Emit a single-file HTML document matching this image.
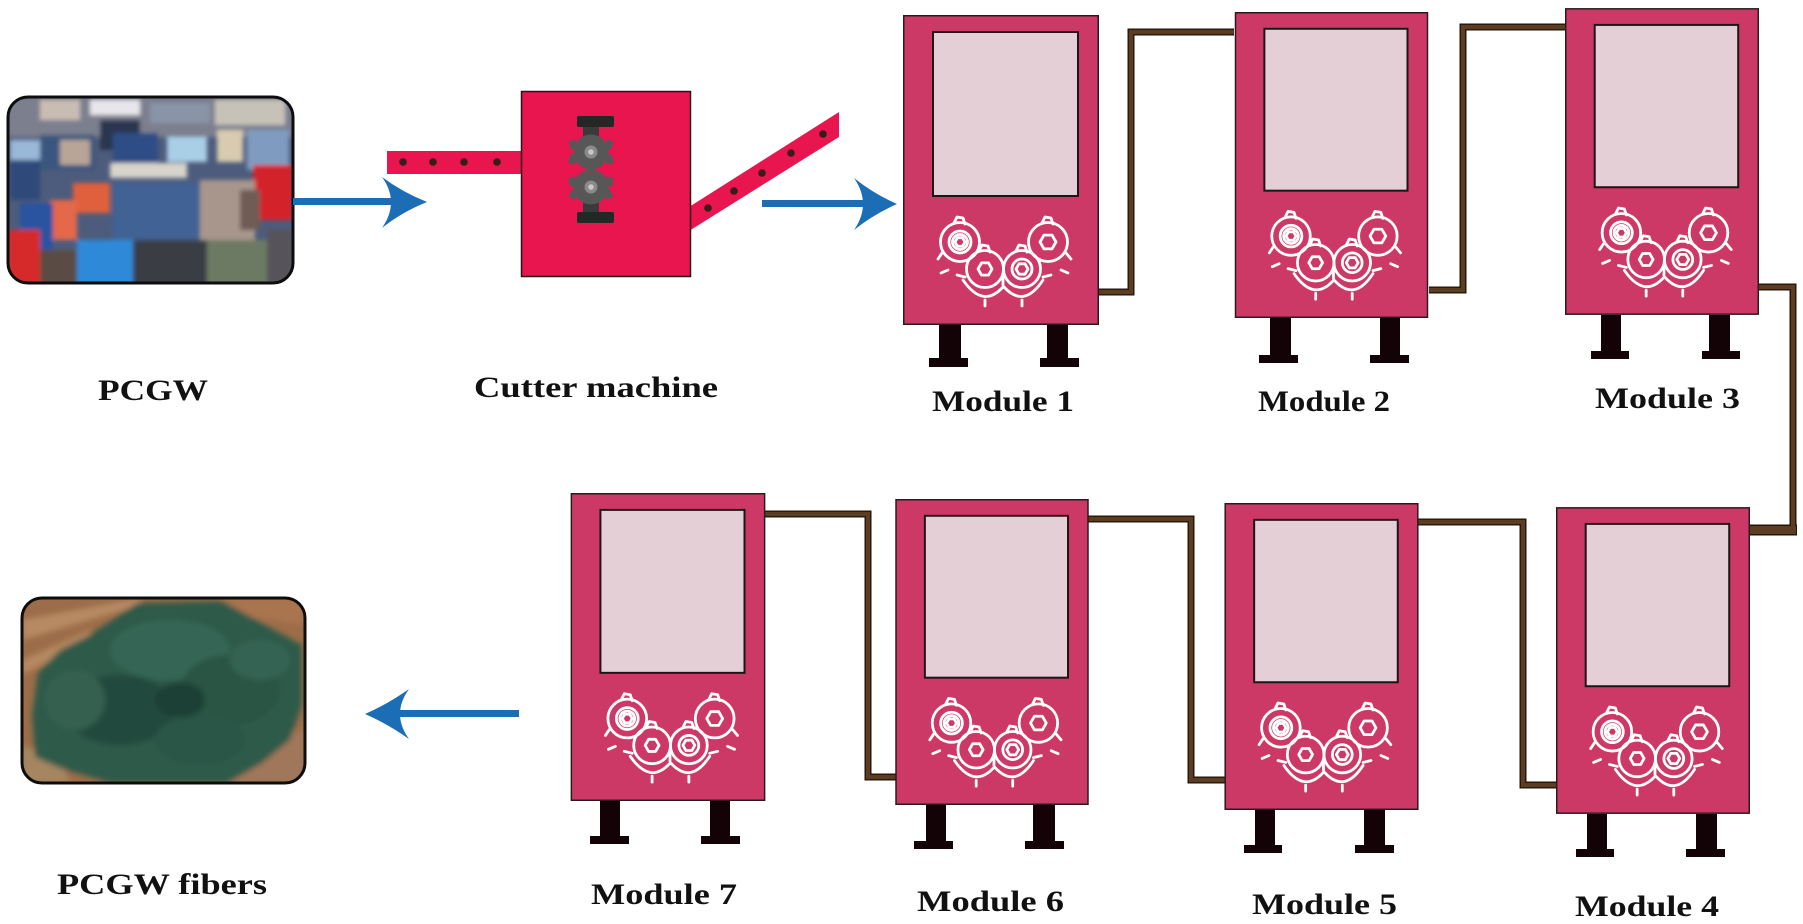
<!DOCTYPE html>
<html>
<head>
<meta charset="utf-8">
<style>
html,body{margin:0;padding:0;background:#fff;}
svg{display:block;}
text{font-family:"Liberation Serif","DejaVu Serif",serif;font-weight:bold;fill:#111;}
</style>
</head>
<body>
<svg width="1803" height="924" viewBox="0 0 1803 924" xmlns="http://www.w3.org/2000/svg" xmlns:xlink="http://www.w3.org/1999/xlink">
<defs>
  <clipPath id="clip1"><rect x="8" y="97" width="285" height="186" rx="20" ry="20"/></clipPath>
  <clipPath id="clip2"><rect x="22" y="598" width="283" height="185" rx="20" ry="20"/></clipPath>
  <filter id="blur1" x="-5%" y="-5%" width="110%" height="110%"><feGaussianBlur stdDeviation="2.2"/></filter>
  <filter id="blur2" x="-5%" y="-5%" width="110%" height="110%"><feGaussianBlur stdDeviation="3"/></filter>
  <symbol id="mod" viewBox="0 0 196 310" overflow="visible">
    <rect x="0.75" y="0.75" width="194.5" height="308.5" fill="#cd3966" stroke="#2a1a1e" stroke-width="1.5"/>
    <rect x="30" y="17" width="145" height="164" fill="#e4cfd6" stroke="#1c1416" stroke-width="2"/>
    <g fill="none" stroke="#fff" stroke-width="2.8" stroke-linejoin="round" stroke-linecap="round">
      <circle cx="57" cy="227" r="19.5"/>
      <circle cx="57" cy="227" r="11"/>
      <circle cx="57" cy="227" r="7.5"/>
      <polygon points="62,227 59.5,231.3 54.5,231.3 52,227 54.5,222.7 59.5,222.7"/>
      <circle cx="145" cy="227" r="19.5"/>
      <polygon points="153,227 149,233.9 141,233.9 137,227 141,220.1 149,220.1"/>
      <circle cx="82" cy="254" r="18.5"/>
      <polygon points="89,254 85.5,260.1 78.5,260.1 75,254 78.5,247.9 85.5,247.9"/>
      <circle cx="119" cy="254" r="18.5"/>
      <circle cx="119" cy="254" r="10"/>
      <polygon points="125,254 122,259.2 116,259.2 113,254 116,248.8 122,248.8"/>
      <path d="M60,265 Q80,294 100,272"/>
      <path d="M101,272 Q121,294 140,265"/>
      <path d="M51,208 l3,-6 l6,1 l2,6"/>
      <path d="M139,208 l3,-6 l6,1 l2,6"/>
      <path d="M76,236 l3,-6 l6,1 l2,6"/>
      <path d="M113,236 l3,-6 l6,1 l2,6"/>
      <path d="M39,238 l-4,6 M45,255 l-7,3 M163,238 l5,6 M158,255 l7,3"/>
      <path d="M62,262 l-8,-2 M140,262 l8,-2 M82,285 l0,6 M119,285 l0,6 M100,262 l0,8"/>
    </g>
  </symbol>
</defs>

<rect width="1803" height="924" fill="#fff"/>

<!-- PCGW photo -->
<g clip-path="url(#clip1)">
  <rect x="8" y="97" width="285" height="186" fill="#4d5c7c"/>
  <g filter="url(#blur1)">
    <rect x="8" y="97" width="285" height="40" fill="#7c7f8e"/>
    <rect x="40" y="100" width="40" height="20" fill="#c9bdb3"/>
    <rect x="90" y="100" width="50" height="15" fill="#e8e6ea"/>
    <rect x="150" y="103" width="60" height="20" fill="#8a94a8"/>
    <rect x="215" y="100" width="70" height="25" fill="#c7c2b8"/>
    <rect x="100" y="120" width="40" height="30" fill="#2a3550"/>
    <rect x="10" y="140" width="30" height="22" fill="#9ab8d8"/>
    <rect x="10" y="160" width="30" height="40" fill="#2d4a7a"/>
    <rect x="40" y="135" width="55" height="35" fill="#3b567e"/>
    <rect x="60" y="140" width="30" height="25" fill="#b9a597"/>
    <rect x="113" y="133" width="45" height="40" fill="#2f4e86"/>
    <rect x="167" y="137" width="40" height="25" fill="#a9cfe6"/>
    <rect x="217" y="130" width="26" height="32" fill="#d8cbb0"/>
    <rect x="247" y="130" width="42" height="40" fill="#7f9cc0"/>
    <rect x="110" y="163" width="77" height="15" fill="#d8d4cc"/>
    <rect x="253" y="165" width="40" height="55" fill="#d4202c"/>
    <rect x="73" y="183" width="37" height="30" fill="#e0603e"/>
    <rect x="50" y="200" width="27" height="40" fill="#e4684a"/>
    <rect x="113" y="183" width="100" height="62" fill="#3f6294"/>
    <rect x="200" y="180" width="55" height="60" fill="#a8968c"/>
    <rect x="240" y="190" width="20" height="40" fill="#6e5c55"/>
    <rect x="20" y="203" width="33" height="54" fill="#2b52a0"/>
    <rect x="8" y="230" width="32" height="55" fill="#d62c2c"/>
    <rect x="77" y="240" width="56" height="45" fill="#2f8ad8"/>
    <rect x="133" y="240" width="74" height="45" fill="#3a3c45"/>
    <rect x="207" y="240" width="60" height="45" fill="#6d7a63"/>
    <rect x="267" y="230" width="26" height="55" fill="#56525a"/>
    <rect x="40" y="250" width="37" height="35" fill="#5a4b45"/>
  </g>
</g>
<rect x="8" y="97" width="285" height="186" rx="20" ry="20" fill="none" stroke="#0d0d0d" stroke-width="3"/>

<!-- PCGW fibers photo -->
<g clip-path="url(#clip2)">
  <rect x="22" y="598" width="283" height="185" fill="#9c6d48"/>
  <g filter="url(#blur2)">
    <path d="M22,620 L140,598 L140,605 L22,640 Z" fill="#b88a63"/>
    <path d="M22,660 L90,630 L90,640 L22,675 Z" fill="#b58860"/>
    <path d="M220,598 L305,598 L305,625 L240,615 Z" fill="#a97550"/>
    <path d="M230,745 L305,730 L305,783 L220,783 Z" fill="#a0775a"/>
    <path d="M22,745 L60,760 L70,783 L22,783 Z" fill="#a58660"/>
    <path d="M137,603 L223,601 L265,625 L302,645 L302,705 L290,740 L262,763 L228,783 L110,783 L60,768 L35,757 L32,715 L38,672 L60,650 L88,636 Z" fill="#2e5a4a"/>
    <ellipse cx="170" cy="650" rx="60" ry="30" fill="#356655"/>
    <ellipse cx="230" cy="690" rx="50" ry="35" fill="#2a5445"/>
    <ellipse cx="120" cy="710" rx="55" ry="35" fill="#244a3e"/>
    <ellipse cx="200" cy="740" rx="45" ry="25" fill="#2c5646"/>
    <ellipse cx="75" cy="700" rx="30" ry="30" fill="#34604f"/>
    <ellipse cx="260" cy="660" rx="30" ry="20" fill="#356352"/>
    <ellipse cx="180" cy="700" rx="25" ry="18" fill="#1d3f35"/>
  </g>
</g>
<rect x="22" y="598" width="283" height="185" rx="20" ry="20" fill="none" stroke="#0d0d0d" stroke-width="3"/>

<!-- Blue arrows -->
<g fill="#1b6eb5">
  <rect x="293" y="198" width="105" height="7"/>
  <path d="M427,202 Q402,192 382,177 Q400,202 382,228 Q402,212 427,202 Z"/>
  <rect x="762" y="200" width="112" height="7"/>
  <path d="M897,204 Q874,194 854,178 Q872,204 854,230 Q874,214 897,204 Z"/>
  <rect x="392" y="710" width="127" height="7"/>
  <path d="M365,714 Q388,704 409,689 Q391,714 409,739 Q388,724 365,714 Z"/>
</g>

<!-- Cutter machine -->
<rect x="387" y="151" width="136" height="23" fill="#e8154f"/>
<g fill="#3a1a1a">
  <circle cx="403" cy="162" r="3.8"/>
  <circle cx="433" cy="162" r="3.8"/>
  <circle cx="464" cy="162" r="3.8"/>
  <circle cx="497" cy="162" r="3.8"/>
</g>
<polygon points="689,207 839,112 839,137 689,231" fill="#e8154f"/>
<g fill="#3a1a1a">
  <circle cx="708" cy="208" r="3.8"/>
  <circle cx="734" cy="191" r="3.8"/>
  <circle cx="762" cy="173" r="3.8"/>
  <circle cx="791" cy="153" r="3.8"/>
  <circle cx="823" cy="134" r="3.8"/>
</g>
<rect x="521.5" y="91.5" width="169" height="185" fill="#e8154f" stroke="#2a1418" stroke-width="1.5"/>
<g>
  <rect x="583" y="125" width="16" height="24" fill="#3a3a3a"/>
  <rect x="583" y="190" width="16" height="24" fill="#3a3a3a"/>
  <rect x="577" y="116" width="37" height="11" rx="2" fill="#262626"/>
  <rect x="577" y="212" width="37" height="11" rx="2" fill="#262626"/>
  <g fill="#575757">
    <rect x="570" y="140" width="7" height="9" transform="rotate(-25 574 145)"/>
    <rect x="605" y="140" width="7" height="9" transform="rotate(25 608 145)"/>
    <rect x="569" y="155" width="7" height="9" transform="rotate(15 573 160)"/>
    <rect x="606" y="155" width="7" height="9" transform="rotate(-15 609 160)"/>
    <rect x="569" y="177" width="7" height="9" transform="rotate(-15 573 181)"/>
    <rect x="606" y="177" width="7" height="9" transform="rotate(15 609 181)"/>
    <rect x="570" y="190" width="7" height="9" transform="rotate(25 574 195)"/>
    <rect x="605" y="190" width="7" height="9" transform="rotate(-25 608 195)"/>
  </g>
  <circle cx="591" cy="152" r="17.5" fill="#575757"/>
  <circle cx="591" cy="187" r="17.5" fill="#575757"/>
  <circle cx="591" cy="152" r="6.5" fill="#8a8a8a"/>
  <circle cx="591" cy="152" r="2.8" fill="#c8c8c8"/>
  <circle cx="591" cy="187" r="6.5" fill="#8a8a8a"/>
  <circle cx="591" cy="187" r="2.8" fill="#c8c8c8"/>
</g>

<!-- Connectors -->
<g fill="none" stroke-linejoin="miter" stroke-linecap="butt">
  <g stroke="#24150b" stroke-width="7">
    <polyline points="1098,292 1131,292 1131,32 1234,32"/>
    <polyline points="1429,290 1463,290 1463,27 1566,27"/>
    <polyline points="1758,287 1793,287 1793,530"/>
    <polyline points="1418,522 1523,522 1523,785 1557,785"/>
    <polyline points="1088,519 1191,519 1191,780 1225,780"/>
    <polyline points="765,514 868,514 868,777 896,777"/>
  </g>
  <line x1="1750" y1="530" x2="1797" y2="530" stroke="#24150b" stroke-width="11"/>
  <g stroke="#5c3d22" stroke-width="4.2">
    <polyline points="1098,292 1131,292 1131,32 1234,32"/>
    <polyline points="1429,290 1463,290 1463,27 1566,27"/>
    <polyline points="1758,287 1793,287 1793,530"/>
    <polyline points="1418,522 1523,522 1523,785 1557,785"/>
    <polyline points="1088,519 1191,519 1191,780 1225,780"/>
    <polyline points="765,514 868,514 868,777 896,777"/>
  </g>
  <line x1="1750" y1="530" x2="1796" y2="530" stroke="#5c3d22" stroke-width="8"/>
</g>

<!-- Modules -->
<use href="#mod" xlink:href="#mod" x="903" y="15" width="196" height="310"/>
<use href="#mod" xlink:href="#mod" x="1233" y="12" width="197" height="306"/>
<use href="#mod" xlink:href="#mod" x="1565" y="8" width="194" height="307"/>
<use href="#mod" xlink:href="#mod" x="1556" y="507" width="194" height="307"/>
<use href="#mod" xlink:href="#mod" x="1224" y="503" width="195" height="307"/>
<use href="#mod" xlink:href="#mod" x="895" y="499" width="194" height="306"/>
<use href="#mod" xlink:href="#mod" x="570" y="493" width="196" height="308"/>

<!-- Legs -->
<g fill="#130306">
  <rect x="939" y="325" width="22" height="34"/><rect x="929" y="358" width="39" height="9"/>
  <rect x="1047" y="325" width="21" height="34"/><rect x="1040" y="358" width="39" height="9"/>
  <rect x="1270" y="318" width="21" height="38"/><rect x="1259" y="355" width="39" height="8"/>
  <rect x="1380" y="318" width="20" height="38"/><rect x="1370" y="355" width="39" height="8"/>
  <rect x="1601" y="315" width="20" height="37"/><rect x="1591" y="351" width="38" height="8"/>
  <rect x="1709" y="315" width="21" height="37"/><rect x="1702" y="351" width="38" height="8"/>
  <rect x="1587" y="814" width="20" height="36"/><rect x="1576" y="849" width="38" height="8"/>
  <rect x="1696" y="814" width="21" height="36"/><rect x="1686" y="849" width="39" height="8"/>
  <rect x="1255" y="810" width="20" height="36"/><rect x="1244" y="845" width="38" height="8"/>
  <rect x="1364" y="810" width="21" height="36"/><rect x="1355" y="845" width="39" height="8"/>
  <rect x="926" y="805" width="20" height="37"/><rect x="914" y="841" width="39" height="8"/>
  <rect x="1033" y="805" width="22" height="37"/><rect x="1025" y="841" width="39" height="8"/>
  <rect x="600" y="801" width="20" height="36"/><rect x="590" y="836" width="39" height="8"/>
  <rect x="710" y="801" width="20" height="36"/><rect x="701" y="836" width="39" height="8"/>
</g>

<!-- Labels -->
<g font-size="30">
  <text x="98" y="400" textLength="110" lengthAdjust="spacingAndGlyphs">PCGW</text>
  <text x="474" y="397" textLength="244" lengthAdjust="spacingAndGlyphs">Cutter machine</text>
  <text x="932" y="411" textLength="142" lengthAdjust="spacingAndGlyphs">Module 1</text>
  <text x="1258" y="411" textLength="132" lengthAdjust="spacingAndGlyphs">Module 2</text>
  <text x="1595" y="408" textLength="145" lengthAdjust="spacingAndGlyphs">Module 3</text>
  <text x="1575" y="916" textLength="144" lengthAdjust="spacingAndGlyphs">Module 4</text>
  <text x="1252" y="914" textLength="145" lengthAdjust="spacingAndGlyphs">Module 5</text>
  <text x="917" y="911" textLength="147" lengthAdjust="spacingAndGlyphs">Module 6</text>
  <text x="591" y="904" textLength="146" lengthAdjust="spacingAndGlyphs">Module 7</text>
  <text x="57" y="894" textLength="210" lengthAdjust="spacingAndGlyphs">PCGW fibers</text>
</g>
</svg>
</body>
</html>
